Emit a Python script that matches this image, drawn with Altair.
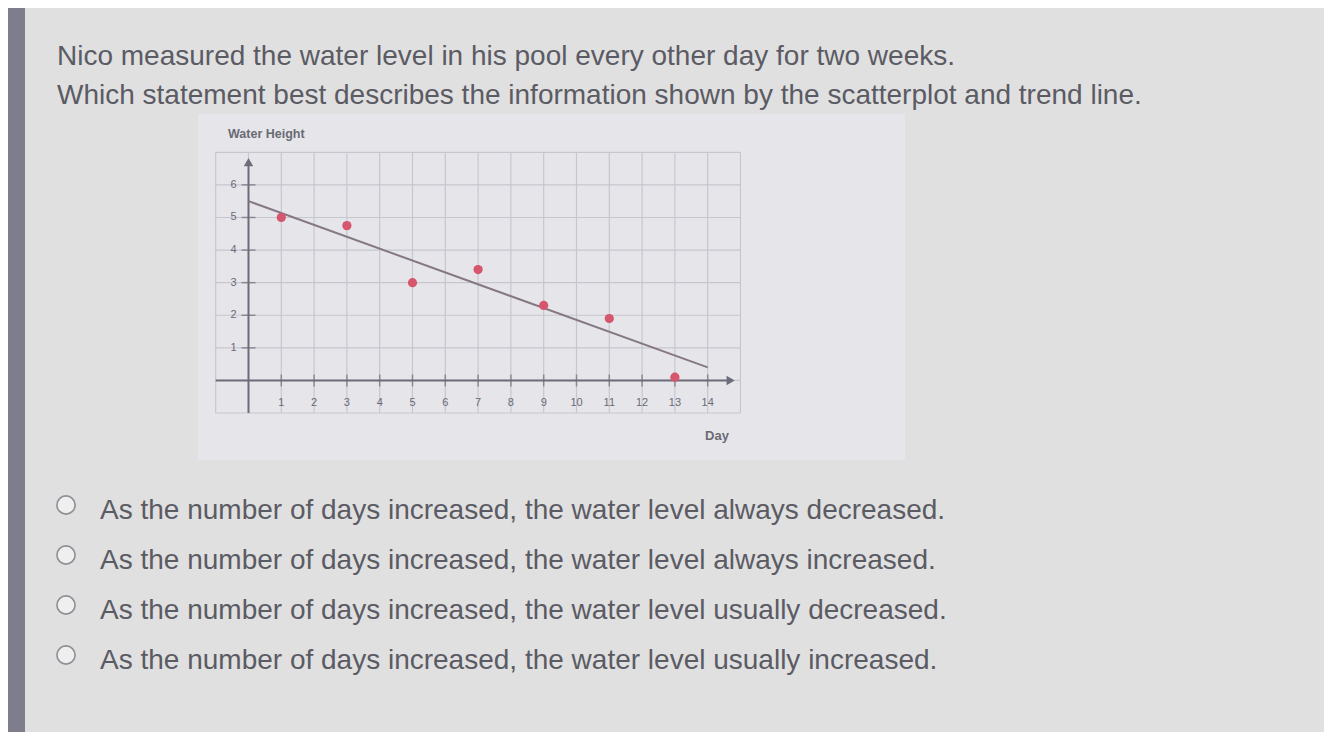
import altair as alt
import pandas as pd

# ---- data ----
days = [1, 3, 5, 7, 9, 11, 13]
levels = [5.0, 4.75, 3.0, 3.4, 2.3, 1.9, 0.1]
trend_days = [0, 14]
trend_levels = [5.5, 0.4]
x_ticks = list(range(1, 15))
y_ticks = list(range(1, 7))
grid_x = list(range(-1, 16))
grid_y = list(range(-1, 8))
question_lines = [
    "Nico measured the water level in his pool every other day for two weeks.",
    "Which statement best describes the information shown by the scatterplot and trend line.",
]
options = [
    "As the number of days increased, the water level always decreased.",
    "As the number of days increased, the water level always increased.",
    "As the number of days increased, the water level usually decreased.",
    "As the number of days increased, the water level usually increased.",
]
graph_title = "Water Height"
x_title = "Day"

# ---- style / layout ----
FONT = "Liberation Sans"
W, H = 1316, 724
TEXT = "#5b5b64"
AXIS = "#6c6c7a"
GRID = "#c6c6d0"
LABEL = "#6a6a74"

xs = alt.Scale(domain=[-1, 15], range=[207.7, 732.5], nice=False, zero=False)
ys = alt.Scale(domain=[-1, 7], range=[405, 144.3], nice=False, zero=False)

one = pd.DataFrame({"a": [0]})


def txt(s, x, y, size, color, weight="normal", align="left", baseline="alphabetic"):
    return alt.Chart(pd.DataFrame({"t": [s]})).mark_text(
        align=align, baseline=baseline, fontSize=size, font=FONT,
        fontWeight=weight, color=color
    ).encode(x=alt.value(x), y=alt.value(y), text="t:N")


strip = alt.Chart(one).mark_rect(color="#7d7d8b").encode(
    x=alt.value(0), x2=alt.value(17), y=alt.value(0), y2=alt.value(H))

panel = alt.Chart(one).mark_rect(color="#e6e6ea").encode(
    x=alt.value(190), x2=alt.value(897), y=alt.value(106), y2=alt.value(452))

grid_v = alt.Chart(pd.DataFrame({"gx": grid_x})).mark_rule(color=GRID, strokeWidth=1.2).encode(
    x=alt.X("gx:Q", scale=xs), y=alt.datum(-1), y2=alt.datum(7))
grid_h = alt.Chart(pd.DataFrame({"gy": grid_y})).mark_rule(color=GRID, strokeWidth=1.2).encode(
    y=alt.Y("gy:Q", scale=ys), x=alt.datum(-1), x2=alt.datum(15))

x_axis = alt.Chart(one).mark_rule(color=AXIS, strokeWidth=2).encode(
    x=alt.datum(-1), x2=alt.datum(14.7), y=alt.datum(0))
x_arrow = alt.Chart(one).mark_point(shape="triangle-right", filled=True, size=90,
                                    color=AXIS, opacity=1).encode(
    x=alt.datum(14.7), y=alt.datum(0))
y_axis = alt.Chart(one).mark_rule(color=AXIS, strokeWidth=2).encode(
    x=alt.datum(0), y=alt.datum(-1), y2=alt.datum(6.7))
y_arrow = alt.Chart(one).mark_point(shape="triangle-up", filled=True, size=90,
                                    color=AXIS, opacity=1).encode(
    x=alt.datum(0), y=alt.datum(6.7))

xt = pd.DataFrame({"v": x_ticks})
yt = pd.DataFrame({"v": y_ticks})
x_tick_marks = alt.Chart(xt).mark_tick(orient="vertical", size=12, thickness=1.5, color=AXIS).encode(
    x="v:Q", y=alt.datum(0))
y_tick_marks = alt.Chart(yt).mark_tick(orient="horizontal", size=14, thickness=1.5, color=AXIS).encode(
    y="v:Q", x=alt.datum(0))
x_tick_labels = alt.Chart(xt).mark_text(font=FONT, fontSize=11, color=LABEL, dy=23,
                                        baseline="middle", align="center").encode(
    x="v:Q", y=alt.datum(0), text="v:Q")
y_tick_labels = alt.Chart(yt).mark_text(font=FONT, fontSize=11, color=LABEL, dx=-12,
                                        baseline="middle", align="right").encode(
    y="v:Q", x=alt.datum(0), text="v:Q")

trend = alt.Chart(pd.DataFrame({"d": trend_days, "l": trend_levels})).mark_line(
    color="#857884", strokeWidth=2).encode(x="d:Q", y="l:Q")
pts = alt.Chart(pd.DataFrame({"d": days, "l": levels})).mark_circle(
    color="#d5566d", size=85, opacity=1).encode(x="d:Q", y="l:Q")

layers = [strip, panel, grid_v, grid_h, x_axis, x_arrow, y_axis, y_arrow,
          x_tick_marks, y_tick_marks, x_tick_labels, y_tick_labels, trend, pts,
          txt(graph_title, 220, 126, 12.5, LABEL, weight="bold", baseline="middle"),
          txt(x_title, 709, 428, 13, LABEL, weight="bold", align="center", baseline="middle")]

for i, line in enumerate(question_lines):
    layers.append(txt(line, 49, 57 + 39 * i, 28, TEXT))

for i, opt in enumerate(options):
    cy = 497 + 50 * i
    layers.append(
        alt.Chart(one).mark_point(shape="circle", size=330, fill="#efeff0", stroke="#8e8e96",
                                  strokeWidth=1.6, opacity=1).encode(x=alt.value(58), y=alt.value(cy)))
    layers.append(txt(opt, 92, cy + 14, 28, TEXT))

chart = alt.layer(*layers).properties(
    width=W, height=H, padding=0, autosize="none", background="#e0e0e0"
).configure_view(stroke="transparent").configure_axis(disable=True)

chart.save("out.html", embed_options={"renderer": "svg", "actions": False})
